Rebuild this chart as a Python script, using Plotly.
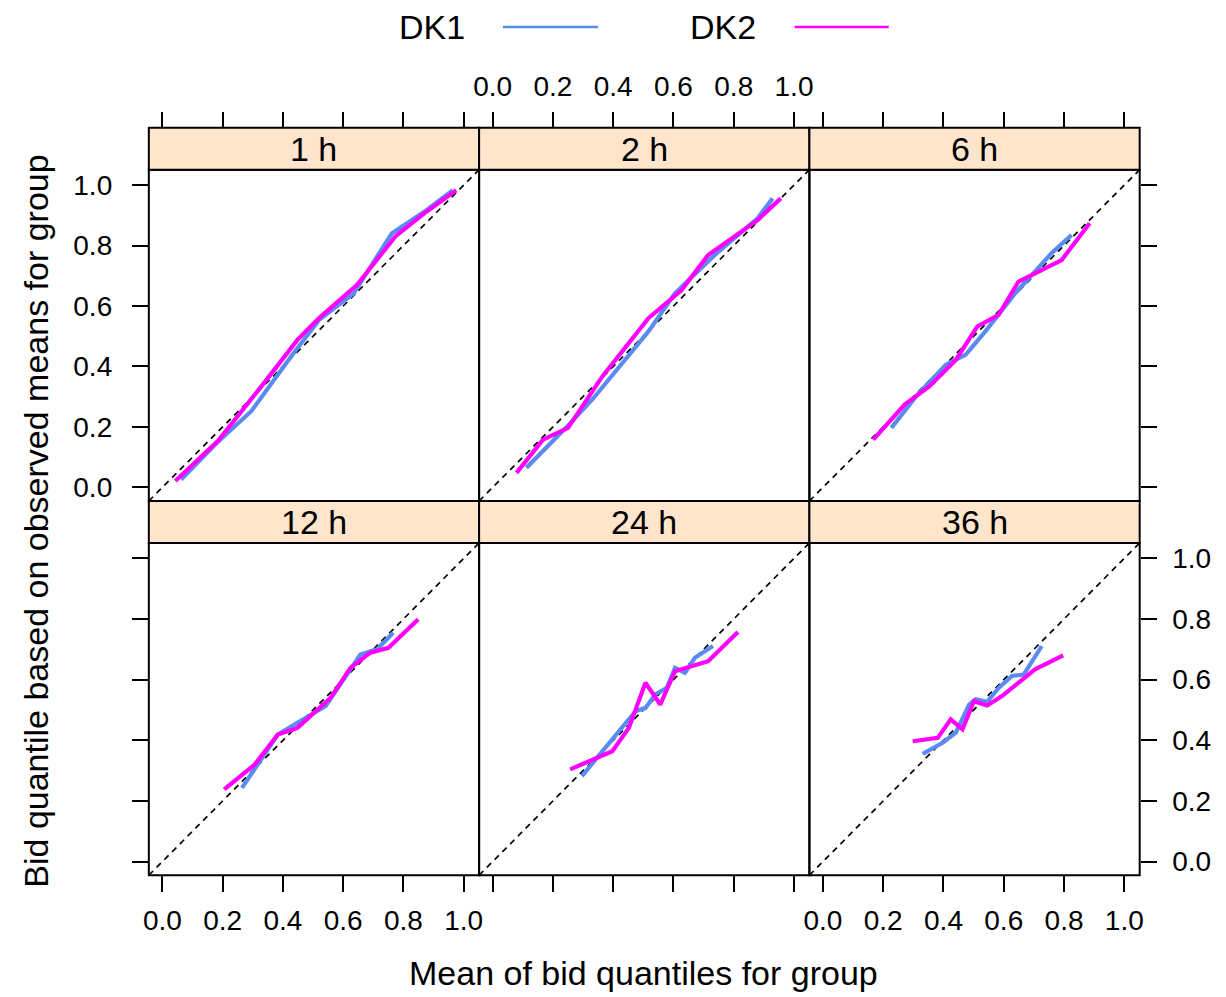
import plotly.graph_objects as go

W, H = 1226, 997

panels = ["1 h", "2 h", "6 h", "12 h", "24 h", "36 h"]
series_names = ["DK1", "DK2"]
series_colors = ["#5a8cf0", "#ff00ff"]

tick_values = [0.0, 0.2, 0.4, 0.6, 0.8, 1.0]

# DK1 / DK2 (x = mean of bid quantiles, y = bid quantile based on observed means)
dk1_1h_x = [0.062, 0.18, 0.295, 0.427, 0.52, 0.635, 0.761, 0.876, 0.964]
dk1_1h_y = [0.026, 0.147, 0.252, 0.433, 0.554, 0.642, 0.84, 0.917, 0.983]
dk2_1h_x = [0.043, 0.184, 0.333, 0.448, 0.52, 0.646, 0.773, 0.876, 0.975]
dk2_1h_y = [0.021, 0.153, 0.34, 0.488, 0.56, 0.67, 0.83, 0.912, 0.983]

dk1_2h_x = [0.112, 0.243, 0.33, 0.43, 0.517, 0.605, 0.737, 0.879, 0.929]
dk1_2h_y = [0.065, 0.197, 0.29, 0.41, 0.516, 0.642, 0.769, 0.89, 0.956]
dk2_2h_x = [0.079, 0.167, 0.25, 0.364, 0.517, 0.627, 0.715, 0.879, 0.956]
dk2_2h_y = [0.048, 0.158, 0.197, 0.367, 0.56, 0.653, 0.769, 0.884, 0.956]

dk1_6h_x = [0.227, 0.309, 0.408, 0.474, 0.539, 0.638, 0.759, 0.825]
dk1_6h_y = [0.197, 0.301, 0.406, 0.439, 0.516, 0.642, 0.775, 0.835]
dk2_6h_x = [0.167, 0.271, 0.353, 0.441, 0.512, 0.583, 0.649, 0.792, 0.885]
dk2_6h_y = [0.158, 0.274, 0.334, 0.422, 0.532, 0.571, 0.681, 0.752, 0.874]

dk1_12h_x = [0.264, 0.311, 0.383, 0.448, 0.542, 0.657, 0.712, 0.766]
dk1_12h_y = [0.243, 0.315, 0.419, 0.458, 0.513, 0.683, 0.70, 0.755]
dk2_12h_x = [0.205, 0.306, 0.383, 0.448, 0.558, 0.624, 0.69, 0.75, 0.849]
dk2_12h_y = [0.238, 0.32, 0.419, 0.441, 0.54, 0.639, 0.689, 0.705, 0.799]

dk1_24h_x = [0.296, 0.408, 0.474, 0.507, 0.539, 0.578, 0.605, 0.638, 0.671, 0.731]
dk1_24h_y = [0.282, 0.414, 0.496, 0.507, 0.551, 0.573, 0.639, 0.623, 0.672, 0.711]
dk2_24h_x = [0.257, 0.342, 0.397, 0.452, 0.507, 0.556, 0.605, 0.715, 0.814]
dk2_24h_y = [0.304, 0.342, 0.364, 0.441, 0.59, 0.518, 0.628, 0.661, 0.757]

dk1_36h_x = [0.331, 0.397, 0.441, 0.485, 0.507, 0.545, 0.583, 0.627, 0.666, 0.726]
dk1_36h_y = [0.355, 0.392, 0.425, 0.518, 0.535, 0.527, 0.573, 0.612, 0.617, 0.711]
dk2_36h_x = [0.298, 0.381, 0.424, 0.463, 0.501, 0.545, 0.594, 0.649, 0.704, 0.797]
dk2_36h_y = [0.397, 0.408, 0.469, 0.436, 0.529, 0.515, 0.546, 0.59, 0.634, 0.68]

data = [
    [(dk1_1h_x, dk1_1h_y), (dk2_1h_x, dk2_1h_y)],
    [(dk1_2h_x, dk1_2h_y), (dk2_2h_x, dk2_2h_y)],
    [(dk1_6h_x, dk1_6h_y), (dk2_6h_x, dk2_6h_y)],
    [(dk1_12h_x, dk1_12h_y), (dk2_12h_x, dk2_12h_y)],
    [(dk1_24h_x, dk1_24h_y), (dk2_24h_x, dk2_24h_y)],
    [(dk1_36h_x, dk1_36h_y), (dk2_36h_x, dk2_36h_y)],
]

axis_range = [-0.045, 1.051]

FONT = "Liberation Sans, Arial, Helvetica, sans-serif"
TICK_SIZE = 28
BIG_SIZE = 34

col_px = [(144, 477), (477, 810), (810, 1143)]
row_px = [(170, 502), (544, 877)]     # panel areas (top, bottom)
strip_px = [(128, 170), (502, 544)]   # strips (top, bottom)

def px_x(p):
    return p / W

def px_y(p):
    return 1 - p / H

fig = go.Figure()
shapes = []
annotations = []

for i, name in enumerate(panels):
    r, c = divmod(i, 3)
    k = i + 1
    xa = "x" if k == 1 else f"x{k}"
    ya = "y" if k == 1 else f"y{k}"
    # reference line y = x
    fig.add_trace(go.Scatter(x=axis_range, y=axis_range, mode="lines",
                             line=dict(color="black", width=1.7, dash="6px,5px"),
                             xaxis=xa, yaxis=ya, showlegend=False, hoverinfo="skip"))
    for s, (xs, ys) in enumerate(data[i]):
        fig.add_trace(go.Scatter(x=xs, y=ys, mode="lines", name=series_names[s],
                                 line=dict(color=series_colors[s], width=4.2),
                                 xaxis=xa, yaxis=ya, showlegend=False))

    xdom = [px_x(col_px[c][0]), px_x(col_px[c][1])]
    ydom = [px_y(row_px[r][1]), px_y(row_px[r][0])]

    xax = dict(domain=xdom, range=axis_range, anchor=ya, showgrid=False, zeroline=False,
               showline=False,
               tickvals=tick_values, tickformat=".1f",
               tickfont=dict(family=FONT, size=TICK_SIZE, color="black"),
               tickcolor="black", tickwidth=1.5, ticklen=16)
    if r == 0:
        xax.update(ticks="", showticklabels=False)
    else:
        xax.update(ticks="outside", side="bottom", showticklabels=(c != 1),
                   ticklabelstandoff=4)
    yax = dict(domain=ydom, range=axis_range, anchor=xa, showgrid=False, zeroline=False,
               showline=False,
               tickvals=tick_values, tickformat=".1f",
               tickfont=dict(family=FONT, size=TICK_SIZE, color="black"),
               tickcolor="black", tickwidth=1.5, ticklen=16)
    if c == 0:
        yax.update(ticks="outside", side="left", showticklabels=(r == 0),
                   ticklabelstandoff=14)
    elif c == 2:
        yax.update(ticks="outside", side="right", showticklabels=(r == 1),
                   ticklabelstandoff=10)
    else:
        yax.update(ticks="", showticklabels=False)

    fig.layout[("xaxis" if k == 1 else f"xaxis{k}")] = xax
    fig.layout[("yaxis" if k == 1 else f"yaxis{k}")] = yax

    # panel border
    shapes.append(dict(type="rect", xref="paper", yref="paper",
                       x0=xdom[0], x1=xdom[1], y0=ydom[0], y1=ydom[1],
                       fillcolor="rgba(0,0,0,0)", line=dict(color="black", width=2), layer="above"))
    # strip
    shapes.append(dict(type="rect", xref="paper", yref="paper",
                       x0=xdom[0], x1=xdom[1],
                       y0=px_y(strip_px[r][1]), y1=px_y(strip_px[r][0]),
                       fillcolor="#ffe5cc", line=dict(color="black", width=2), layer="above"))
    annotations.append(dict(xref="paper", yref="paper",
                            x=(xdom[0] + xdom[1]) / 2,
                            y=px_y((strip_px[r][0] + strip_px[r][1]) / 2),
                            text=name, showarrow=False, xanchor="center", yanchor="middle",
                            font=dict(family=FONT, size=BIG_SIZE, color="black")))

# top tick axes for the top row (above the strips)
for c in range(3):
    k = 7 + c
    base = "x" if c == 0 else f"x{c + 1}"
    fig.layout[f"xaxis{k}"] = dict(
        overlaying=base, anchor="free", position=px_y(strip_px[0][0]), side="top",
        range=axis_range, tickvals=tick_values, tickformat=".1f",
        showgrid=False, zeroline=False, showline=False,
        ticks="outside", ticklen=16, tickwidth=1.5, tickcolor="black",
        showticklabels=(c == 1), ticklabelstandoff=5,
        tickfont=dict(family=FONT, size=TICK_SIZE, color="black"))
    fig.add_trace(go.Scatter(x=[None], y=[None], xaxis=f"x{k}",
                             yaxis="y" if c == 0 else f"y{c + 1}",
                             showlegend=False, hoverinfo="skip"))

# legend (key at top: text then line)
legend_text_x = [429, 723]
legend_line_x = [(501, 597), (795, 890)]
legend_y = 27
for s in range(2):
    annotations.append(dict(xref="paper", yref="paper", x=px_x(legend_text_x[s]), y=px_y(legend_y),
                            text=series_names[s], showarrow=False, xanchor="center", yanchor="middle",
                            font=dict(family=FONT, size=BIG_SIZE, color="black")))
    shapes.append(dict(type="line", xref="paper", yref="paper",
                       x0=px_x(legend_line_x[s][0]), x1=px_x(legend_line_x[s][1]),
                       y0=px_y(legend_y), y1=px_y(legend_y),
                       line=dict(color=series_colors[s], width=2.4)))

# axis titles
annotations.append(dict(xref="paper", yref="paper", x=px_x(643), y=px_y(975),
                        text="Mean of bid quantiles for group", showarrow=False,
                        xanchor="center", yanchor="middle",
                        font=dict(family=FONT, size=BIG_SIZE, color="black")))
annotations.append(dict(xref="paper", yref="paper", x=px_x(30), y=px_y(522),
                        text="Bid quantile based on observed means for group", showarrow=False,
                        xanchor="center", yanchor="middle", textangle=-90,
                        font=dict(family=FONT, size=BIG_SIZE, color="black")))

fig.update_layout(width=W, height=H, margin=dict(l=0, r=0, t=0, b=0),
                  paper_bgcolor="white", plot_bgcolor="white",
                  showlegend=False, shapes=shapes, annotations=annotations,
                  font=dict(family=FONT, color="black"))

fig.write_html("out.html")
